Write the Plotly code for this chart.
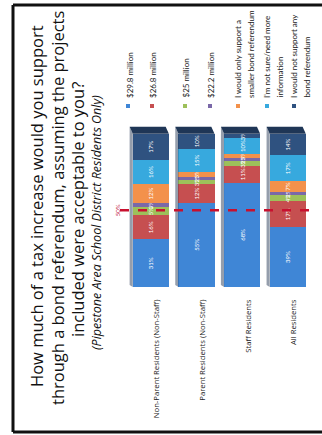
import plotly.graph_objects as go

W, H = 322, 435

categories = ["Non-Parent Residents (Non-Staff)", "Parent Residents (Non-Staff)",
              "Staff Residents", "All Residents"]
series_names = ["$29.8 million", "$26.8 million", "$25 million", "$22.2 million",
                "I would only support a smaller bond referendum",
                "I'm not sure/need more information",
                "I would not support any bond referendum"]
legend_lines = [["$29.8 million"], ["$26.8 million"], ["$25 million"], ["$22.2 million"],
                ["I would only support a", "smaller bond referendum"],
                ["I'm not sure/need more", "information"],
                ["I would not support any", "bond referendum"]]
title_lines = ["How much of a tax increase would you support",
               "through a bond referendum, assuming the projects",
               "included were acceptable to you?"]
subtitle = "(Pipestone Area School District Residents Only)"
v_298 = [31, 55, 68, 39]
v_268 = [16, 12, 11, 17]
v_25 = [5, 3, 3, 4]
v_222 = [3, 2, 2, 2]
v_smaller = [12, 3, 3, 7]
v_notsure = [16, 15, 10, 17]
v_notsupport = [17, 10, 3, 14]
series_values = [v_298, v_268, v_25, v_222, v_smaller, v_notsure, v_notsupport]
colors = ["#3f86d6", "#c64f50", "#9dc05a", "#7a68a8", "#f3914b", "#37a9de", "#2f5280"]
threshold = 50

def px(x):
    return x / W

def py(y):
    return 1 - y / H

BAR_W, BAR_OFF = 0.79, -0.525
fig = go.Figure()
for name, vals, col in zip(series_names, series_values, colors):
    fig.add_trace(go.Bar(
        x=categories, y=vals, name=name, marker=dict(color=col, line=dict(width=0)),
        text=[f"{v}%" for v in vals], textposition="inside", textangle=-90,
        insidetextanchor="middle",
        textfont=dict(color="white", size=6, family="Lato"),
        width=BAR_W, offset=BAR_OFF, showlegend=False,
    ))

annotations = []
for t, x, y in zip(title_lines, [36, 57, 77], [206, 208, 210]):
    annotations.append(dict(
        text=t, x=px(x), y=py(y), xref="paper", yref="paper", xanchor="center",
        yanchor="middle", textangle=-90, showarrow=False,
        font=dict(family="Open Sans", size=16.5, color="#111")))
annotations.append(dict(
    text=f"<i>{subtitle}</i>", x=px(97), y=py(223), xref="paper", yref="paper",
    xanchor="center", yanchor="middle", textangle=-90, showarrow=False,
    font=dict(family="Open Sans", size=12.5, color="#111")))
annotations.append(dict(
    text="50%", x=px(117), y=threshold, xref="paper", yref="y", xanchor="center",
    yanchor="middle", textangle=-90, showarrow=False,
    font=dict(family="Lato", size=6, color="#c0143c")))

legend_x = [[130], [153], [186], [211], [238, 251], [267, 280], [294, 307]]
sw_x = [128, 152, 185, 210, 238, 267, 294]
shapes = []
for lines, xs, sx, col in zip(legend_lines, legend_x, sw_x, colors):
    for t, x in zip(lines, xs):
        annotations.append(dict(
            text=t, x=px(x), y=py(100), xref="paper", yref="paper",
            xanchor="center", yanchor="bottom", textangle=-90, showarrow=False,
            font=dict(family="Lato", size=8, color="#222")))
    shapes.append(dict(type="rect", xref="paper", yref="paper",
                       x0=px(sx - 2), x1=px(sx + 2), y0=py(108), y1=py(104),
                       fillcolor=col, line=dict(width=0)))

# 3D-style dark top caps and side faces, positioned from the stacked totals
DX, DY = 0.07, 4.5
for i in range(len(categories)):
    total = sum(s[i] for s in series_values)
    x0 = i + BAR_OFF
    x1 = x0 + BAR_W
    path = (f"M {x0},{total} L {x1},{total} L {x1 - DX},{total + DY} "
            f"L {x0 - DX},{total + DY} Z")
    shapes.append(dict(type="path", xref="x", yref="y", path=path,
                       fillcolor="#1f3656", line=dict(width=0)))
    side = (f"M {x0},{total} L {x0 - DX},{total + DY} L {x0 - DX},{DY * 0.3} "
            f"L {x0},0 Z")
    shapes.append(dict(type="path", xref="x", yref="y", path=side,
                       fillcolor="rgba(20,40,70,0.45)", line=dict(width=0)))

shapes.append(dict(type="line", xref="paper", yref="y", x0=px(120), x1=px(314),
                   y0=threshold, y1=threshold,
                   line=dict(color="#c8102e", width=2.5, dash="dash")))
for (x0, y0, x1, y1) in [(13, 5, 330, 5), (13, 5, 13, 432), (13, 432, 330, 432)]:
    shapes.append(dict(type="line", xref="paper", yref="paper",
                       x0=px(x0), x1=px(x1), y0=py(y0), y1=py(y1),
                       line=dict(color="#111", width=3)))

fig.update_layout(
    width=W, height=H, barmode="stack", bargap=0.2,
    margin=dict(l=0, r=0, t=0, b=0), paper_bgcolor="white", plot_bgcolor="white",
    xaxis=dict(domain=[0.399, 0.983], range=[-0.62, 3.5], tickangle=-90, showgrid=False,
               showline=False, zeroline=False, ticks="", ticklabelstandoff=10,
               tickfont=dict(family="Open Sans", size=7.7, color="#222")),
    yaxis=dict(domain=[py(287), py(126)], range=[0, 105], visible=False),
    annotations=annotations, shapes=shapes,
    uniformtext=dict(minsize=6, mode="show"),
)
fig.write_html("out.html")
